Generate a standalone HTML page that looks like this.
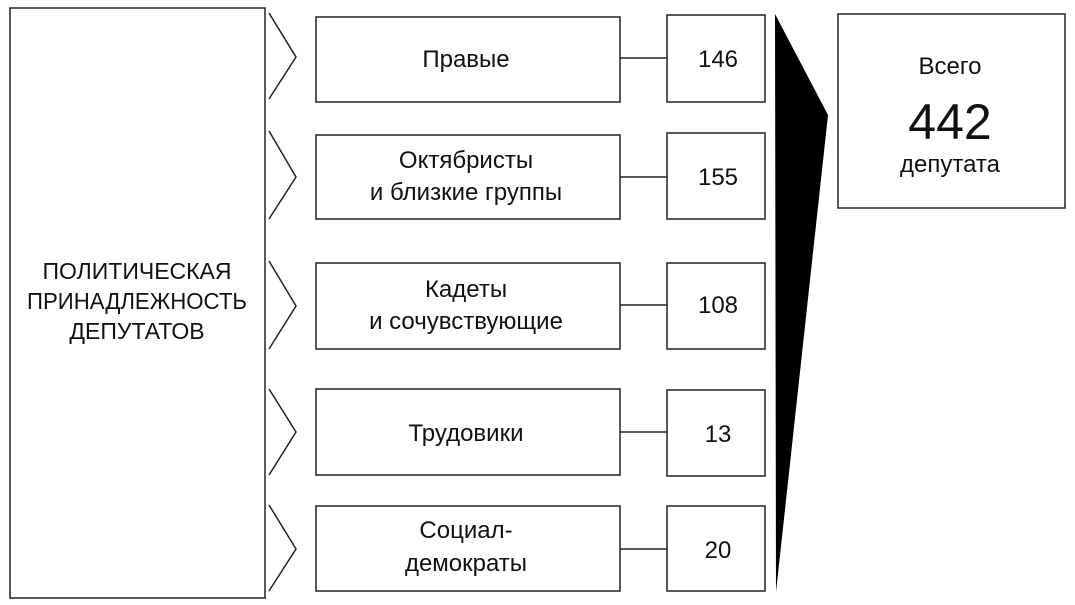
<!DOCTYPE html>
<html><head><meta charset="utf-8"><style>
body{margin:0;width:1075px;height:605px;background:#fff;overflow:hidden}
svg{position:absolute;left:0;top:0}
text{font-family:"Liberation Sans",sans-serif;fill:#111}
</style></head><body>
<svg width="1075" height="605" viewBox="0 0 1075 605">
<g fill="none" stroke="#222" stroke-width="1.5">
<rect x="10" y="8" width="255" height="590"/>
<polyline points="269,13 296,57 269,99"/>
<polyline points="269,131 296,177 269,219"/>
<polyline points="269,261 296,306 269,349"/>
<polyline points="269,389 296,432 269,475"/>
<polyline points="269,505 296,549 269,591"/>
<rect x="316" y="17" width="304" height="85"/>
<rect x="316" y="135" width="304" height="84"/>
<rect x="316" y="263" width="304" height="86"/>
<rect x="316" y="389" width="304" height="86"/>
<rect x="316" y="506" width="304" height="85"/>
<rect x="667" y="15" width="98" height="87"/>
<rect x="667" y="133" width="98" height="86"/>
<rect x="667" y="263" width="98" height="86"/>
<rect x="667" y="390" width="98" height="86"/>
<rect x="667" y="506" width="98" height="85"/>
<line x1="620" y1="58" x2="667" y2="58"/>
<line x1="620" y1="177" x2="667" y2="177"/>
<line x1="620" y1="305" x2="667" y2="305"/>
<line x1="620" y1="432" x2="667" y2="432"/>
<line x1="620" y1="549" x2="667" y2="549"/>
<rect x="838" y="14" width="227" height="194"/>
</g>
<polygon points="775,14 828,115 776,592" fill="#000"/>
<g font-size="24" text-anchor="middle">
<text x="137" y="279" font-size="23">ПОЛИТИЧЕСКАЯ</text>
<text x="137" y="309" font-size="23" textLength="220" lengthAdjust="spacingAndGlyphs">ПРИНАДЛЕЖНОСТЬ</text>
<text x="137" y="339" font-size="23">ДЕПУТАТОВ</text>
<text x="466" y="67">Правые</text>
<text x="466" y="168">Октябристы</text>
<text x="466" y="200">и близкие группы</text>
<text x="466" y="297">Кадеты</text>
<text x="466" y="329">и сочувствующие</text>
<text x="466" y="441">Трудовики</text>
<text x="466" y="538">Социал-</text>
<text x="466" y="571">демократы</text>
<text x="718" y="67">146</text>
<text x="718" y="185">155</text>
<text x="718" y="313">108</text>
<text x="718" y="442">13</text>
<text x="718" y="558">20</text>
<text x="950" y="74">Всего</text>
<text x="950" y="172">депутата</text>
<text x="950" y="139" font-size="50">442</text>
</g>
</svg>
</body></html>
